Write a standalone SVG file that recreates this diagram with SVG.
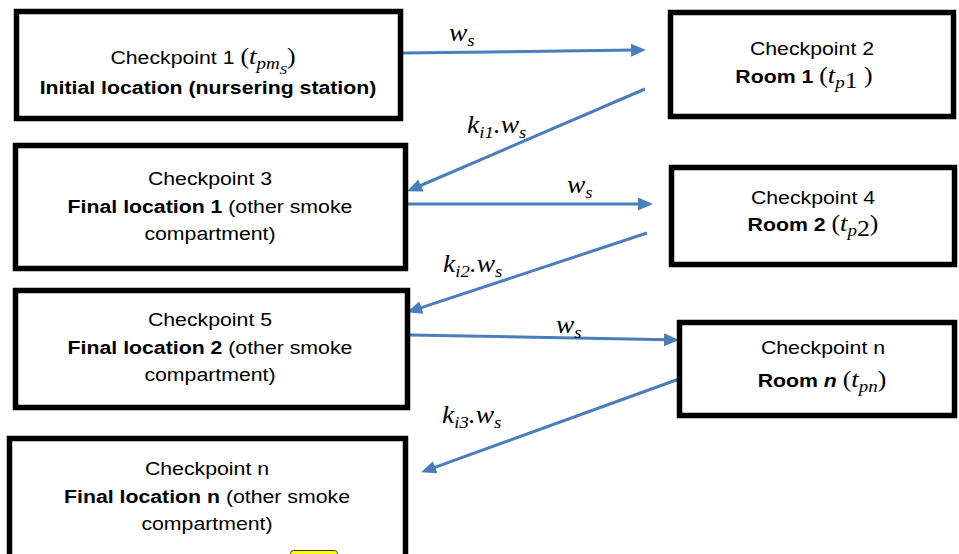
<svg xmlns="http://www.w3.org/2000/svg" width="959" height="554" viewBox="0 0 959 554">
<style>
  .box { fill: #ffffff; stroke: #000000; stroke-width: 5.5; }
  .t { font-family: "Liberation Sans", Arial, sans-serif; font-size: 19px; fill: #000000; }
  .b { font-weight: bold; }
  .m { font-family: "Liberation Serif", "Times New Roman", serif; font-style: italic; }
  .p { font-family: "Liberation Serif", "Times New Roman", serif; font-style: normal; font-size: 23px; }
  .lbl { font-family: "Liberation Serif", "Times New Roman", serif; font-style: italic; font-size: 25px; fill: #000000; }
  .conn { stroke: #4A7EBB; stroke-width: 3; fill: none; marker-end: url(#ah); }
</style>
<defs>
  <marker id="ah" markerUnits="userSpaceOnUse" markerWidth="16" markerHeight="14" refX="4" refY="6.5" orient="auto">
    <path d="M0,0 L15,6.5 L0,13 z" fill="#4A7EBB"/>
  </marker>
</defs>
<rect width="959" height="554" fill="#ffffff"/>

<g id="connectors">
  <line class="conn" x1="403" y1="53" x2="635" y2="50.1"/>
  <line class="conn" x1="645" y1="89" x2="417.2" y2="187"/>
  <line class="conn" x1="408" y1="204" x2="642" y2="204"/>
  <line class="conn" x1="647" y1="233" x2="417.5" y2="308.9"/>
  <line class="conn" x1="410" y1="335" x2="668" y2="339.8"/>
  <line class="conn" x1="679" y1="379" x2="431.4" y2="468.6"/>
  <text class="lbl" transform="translate(449,0) scale(1.1,1)" x="0" y="41">w<tspan font-size="17" dy="5">s</tspan></text>
  <text class="lbl" transform="translate(467,0) scale(1.1,1)" x="0" y="133">k<tspan font-size="17" dy="5">i1</tspan><tspan dy="-5">.w</tspan><tspan font-size="17" dy="5">s</tspan></text>
  <text class="lbl" transform="translate(567,0) scale(1.1,1)" x="0" y="193">w<tspan font-size="17" dy="5">s</tspan></text>
  <text class="lbl" transform="translate(443,0) scale(1.1,1)" x="0" y="272">k<tspan font-size="17" dy="5">i2</tspan><tspan dy="-5">.w</tspan><tspan font-size="17" dy="5">s</tspan></text>
  <text class="lbl" transform="translate(556,0) scale(1.1,1)" x="0" y="333">w<tspan font-size="17" dy="5">s</tspan></text>
  <text class="lbl" transform="translate(442,0) scale(1.1,1)" x="0" y="423">k<tspan font-size="17" dy="5">i3</tspan><tspan dy="-5">.w</tspan><tspan font-size="17" dy="5">s</tspan></text>
</g>

<g id="checkpoint1">
  <rect class="box" x="16.5" y="11.5" width="384" height="107"/>
  <text class="t" transform="translate(203,0) scale(1.12,1)" x="0" y="64" text-anchor="middle">Checkpoint 1 <tspan class="p">(</tspan><tspan class="m" font-size="24">t</tspan><tspan class="m" font-size="17" dy="5">pm</tspan><tspan class="m" font-size="13" dy="5">S</tspan><tspan class="p" dy="-10">)</tspan></text>
  <text class="t b" transform="translate(208,0) scale(1.12,1)" x="0" y="94" text-anchor="middle">Initial location (nursering station)</text>
</g>

<g id="checkpoint2">
  <rect class="box" x="670.5" y="12.5" width="283" height="104"/>
  <text class="t" transform="translate(812,0) scale(1.12,1)" x="0" y="55" text-anchor="middle">Checkpoint 2</text>
  <text class="t" transform="translate(804,0) scale(1.12,1)" x="0" y="83" text-anchor="middle"><tspan class="b">Room 1 </tspan><tspan class="p">(</tspan><tspan class="m" font-size="24">t</tspan><tspan class="m" font-size="17" dy="5">p</tspan><tspan class="p" font-size="17">1</tspan><tspan class="p" dy="-5"> )</tspan></text>
</g>

<g id="checkpoint3">
  <rect class="box" x="15.5" y="145.5" width="390" height="123"/>
  <text class="t" transform="translate(210,0) scale(1.12,1)" x="0" y="185" text-anchor="middle">Checkpoint 3</text>
  <text class="t" transform="translate(210,0) scale(1.12,1)" x="0" y="213" text-anchor="middle"><tspan class="b">Final location 1</tspan> (other smoke</text>
  <text class="t" transform="translate(210,0) scale(1.12,1)" x="0" y="240" text-anchor="middle">compartment)</text>
</g>

<g id="checkpoint4">
  <rect class="box" x="671.5" y="167.5" width="283" height="97"/>
  <text class="t" transform="translate(813,0) scale(1.12,1)" x="0" y="204" text-anchor="middle">Checkpoint 4</text>
  <text class="t" transform="translate(813,0) scale(1.12,1)" x="0" y="231" text-anchor="middle"><tspan class="b">Room 2 </tspan><tspan class="p">(</tspan><tspan class="m" font-size="24">t</tspan><tspan class="m" font-size="17" dy="5">p</tspan><tspan class="p" font-size="17">2</tspan><tspan class="p" dy="-5">)</tspan></text>
</g>

<g id="checkpoint5">
  <rect class="box" x="15.5" y="290.5" width="392" height="117"/>
  <text class="t" transform="translate(210,0) scale(1.12,1)" x="0" y="326" text-anchor="middle">Checkpoint 5</text>
  <text class="t" transform="translate(210,0) scale(1.12,1)" x="0" y="354" text-anchor="middle"><tspan class="b">Final location 2</tspan> (other smoke</text>
  <text class="t" transform="translate(210,0) scale(1.12,1)" x="0" y="381" text-anchor="middle">compartment)</text>
</g>

<g id="checkpointN-room">
  <rect class="box" x="679.5" y="322.5" width="275" height="93"/>
  <text class="t" transform="translate(823,0) scale(1.12,1)" x="0" y="354" text-anchor="middle">Checkpoint n</text>
  <text class="t" transform="translate(822,0) scale(1.12,1)" x="0" y="387" text-anchor="middle"><tspan class="b">Room </tspan><tspan class="b" font-style="italic">n</tspan> <tspan class="p">(</tspan><tspan class="m" font-size="24">t</tspan><tspan class="m" font-size="17" dy="5">pn</tspan><tspan class="p" dy="-5">)</tspan></text>
</g>

<g id="checkpointN-final">
  <rect class="box" x="9.5" y="438.5" width="396" height="130"/>
  <text class="t" transform="translate(207,0) scale(1.12,1)" x="0" y="475" text-anchor="middle">Checkpoint n</text>
  <text class="t" transform="translate(207,0) scale(1.12,1)" x="0" y="503" text-anchor="middle"><tspan class="b">Final location n</tspan> (other smoke</text>
  <text class="t" transform="translate(207,0) scale(1.12,1)" x="0" y="530" text-anchor="middle">compartment)</text>
  <rect x="290.5" y="550.5" width="47" height="12" rx="3" fill="#FFFF00" stroke="#333333" stroke-width="1"/>
</g>
</svg>
